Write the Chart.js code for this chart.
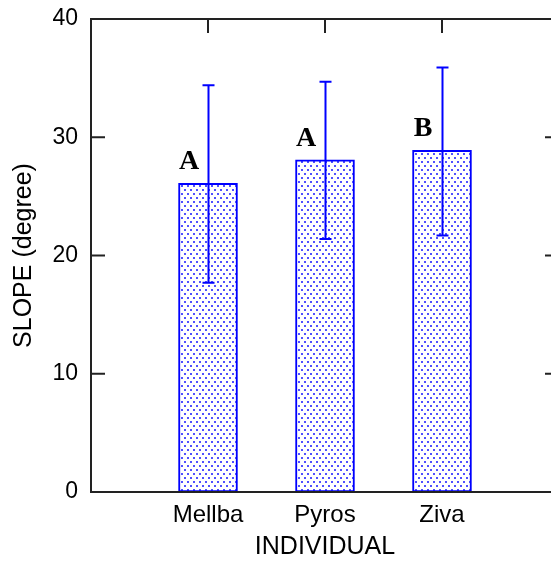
<!DOCTYPE html>
<html>
<head>
<meta charset="utf-8">
<script src="https://cdn.jsdelivr.net/npm/chart.js@4"></script>
<style>
  html, body { margin: 0; padding: 0; background: #fff; overflow: hidden; }
  #wrap { width: 551px; height: 562px; overflow: hidden; }
  #grafico { display: block; }
</style>
</head>
<body>
<div id="wrap"><canvas id="grafico" width="600" height="562"></canvas></div>
<script>
// dados
const individuos = ['Mellba', 'Pyros', 'Ziva'];
const posicoes = [1, 2, 3];
const medias = [26.1, 28.1, 28.9];
const erroSup = [34.4, 34.7, 35.9];
const erroInf = [17.7, 21.4, 21.7];
const letras = ['A', 'A', 'B'];
const yTicks = [0, 10, 20, 30, 40];

const fonteEixo = '"Liberation Sans", Arial, sans-serif';
const azul = '#0000ff';

// padrao pontilhado das barras
function criarPadrao() {
  const c = document.createElement('canvas');
  c.width = 6; c.height = 8;
  const g = c.getContext('2d');
  g.fillStyle = '#fff';
  g.fillRect(0, 0, 6, 8);
  g.fillStyle = '#5050ff';
  g.fillRect(1, 1, 2, 2);
  g.fillRect(4, 5, 2, 2);
  return g.createPattern(c, 'repeat');
}

const moldura = {
  id: 'moldura',
  afterDatasetsDraw(chart) {
    const { ctx, chartArea: a, scales: { x, y } } = chart;
    ctx.save();

    // barras de erro
    ctx.strokeStyle = azul;
    ctx.lineWidth = 2;
    posicoes.forEach((p, i) => {
      const px = Math.round(x.getPixelForValue(p)) + 0.5;
      const yt = y.getPixelForValue(erroSup[i]);
      const yb = y.getPixelForValue(erroInf[i]);
      ctx.beginPath();
      ctx.moveTo(px, yt); ctx.lineTo(px, yb);
      ctx.moveTo(px - 6, yt); ctx.lineTo(px + 6, yt);
      ctx.moveTo(px - 6, yb); ctx.lineTo(px + 6, yb);
      ctx.stroke();
    });

    // letras
    ctx.fillStyle = '#000';
    ctx.font = 'bold 28px "Liberation Serif", "Times New Roman", serif';
    ctx.textAlign = 'center';
    ctx.textBaseline = 'alphabetic';
    posicoes.forEach((p, i) => {
      const px = x.getPixelForValue(p) - 19;
      const py = y.getPixelForValue(medias[i]) - 14;
      ctx.fillText(letras[i], px, py);
    });

    // moldura e ticks internos
    ctx.strokeStyle = '#222';
    ctx.lineWidth = 2;
    ctx.strokeRect(a.left, a.top, a.right - a.left, a.bottom - a.top);
    const tl = 14;
    ctx.beginPath();
    yTicks.forEach(v => {
      const py = y.getPixelForValue(v);
      ctx.moveTo(a.left, py); ctx.lineTo(a.left + tl, py);
      ctx.moveTo(a.right, py); ctx.lineTo(a.right - tl, py);
    });
    posicoes.forEach(p => {
      const px = x.getPixelForValue(p);
      ctx.moveTo(px, a.top); ctx.lineTo(px, a.top + tl);
    });
    ctx.stroke();
    ctx.restore();
  }
};

const ctx = document.getElementById('grafico');

new Chart(ctx, {
  type: 'bar',
  data: {
    datasets: [{
      data: posicoes.map((p, i) => ({ x: p, y: medias[i] })),
      backgroundColor: criarPadrao(),
      borderColor: azul,
      borderWidth: 2,
      borderSkipped: false,
      barThickness: 59
    }]
  },
  options: {
    responsive: false,
    animation: false,
    devicePixelRatio: 1,
    layout: { padding: { left: 0, top: 19, right: 41, bottom: 0 } },
    plugins: { legend: { display: false }, tooltip: { enabled: false } },
    scales: {
      x: {
        type: 'linear',
        min: 0,
        max: 4,
        offset: false,
        grid: { display: false, offset: false, drawTicks: false },
        border: { display: false },
        afterBuildTicks: s => { s.ticks = posicoes.map(v => ({ value: v })); },
        afterFit: s => { s.height = 70; s.paddingLeft = 0; s.paddingRight = 0; },
        ticks: {
          autoSkip: false,
          maxRotation: 0,
          padding: 9,
          color: '#000',
          font: { family: fonteEixo, size: 24 },
          callback: v => individuos[posicoes.indexOf(v)] || ''
        },
        title: {
          display: true,
          text: 'INDIVIDUAL',
          color: '#000',
          font: { family: fonteEixo, size: 25 },
          padding: { top: 1, bottom: 0 }
        }
      },
      y: {
        min: 0,
        max: 40,
        grid: { display: false, drawTicks: false },
        border: { display: false },
        afterFit: s => { s.width = 91; s.paddingTop = 0; s.paddingBottom = 0; },
        ticks: {
          stepSize: 10,
          padding: 13,
          color: '#000',
          font: { family: fonteEixo, size: 23 }
        },
        title: {
          display: true,
          text: 'SLOPE (degree)',
          color: '#000',
          font: { family: fonteEixo, size: 25 },
          padding: { top: 9, bottom: 0 }
        }
      }
    }
  },
  plugins: [moldura]
});
</script>
</body>
</html>
